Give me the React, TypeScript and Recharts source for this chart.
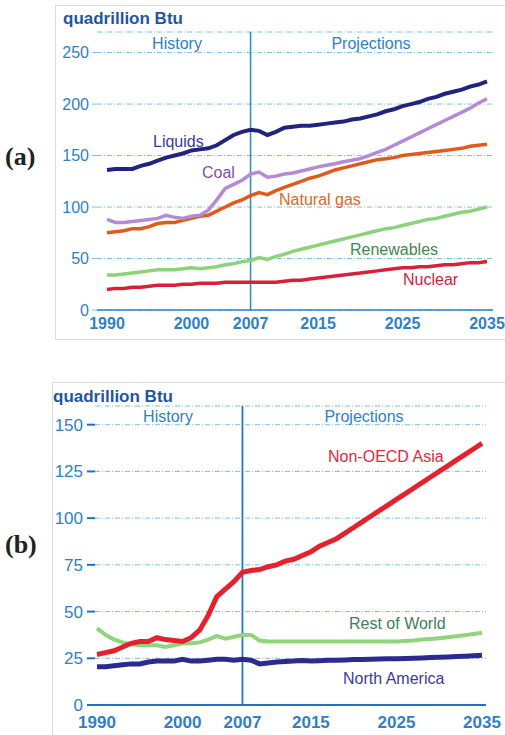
import { LineChart, Line, XAxis, YAxis, CartesianGrid, ReferenceLine } from "recharts";

const years = [
  1990, 1991, 1992, 1993, 1994, 1995, 1996, 1997, 1998, 1999, 2000, 2001, 2002, 2003, 2004, 2005,
  2006, 2007, 2008, 2009, 2010, 2011, 2012, 2013, 2014, 2015, 2016, 2017, 2018, 2019, 2020, 2021,
  2022, 2023, 2024, 2025, 2026, 2027, 2028, 2029, 2030, 2031, 2032, 2033, 2034, 2035,
];

// (a) world energy use by fuel
const liquids = [
  136, 137, 137, 137, 140, 142, 145, 148, 150, 152, 155, 156, 157, 160, 165, 170,
  173, 175, 174, 170, 173, 177, 178, 179, 179, 180, 181, 182, 183, 185, 186, 188,
  190, 193, 195, 198, 200, 202, 205, 207, 210, 212, 214, 217, 219, 222,
];
const coal = [
  88, 85, 85, 86, 87, 88, 89, 92, 90, 89, 91, 92, 97, 107, 118, 122,
  126, 132, 134, 129, 130, 132, 133, 135, 137, 139, 140.5, 142, 144, 145.5, 147, 150,
  153, 156, 160, 164, 168, 172, 176, 180, 184, 188, 192, 196, 201, 205,
];
const naturalGas = [
  75, 76, 77, 79, 79, 81, 84, 85, 85, 87, 89, 91, 92, 96, 100, 104,
  107, 111, 114, 112, 116, 119, 122, 125, 128, 130, 133, 136, 138, 140, 142, 144,
  146, 147, 148, 150, 151, 152, 153, 154, 155, 156, 157, 159, 160, 161,
];
const renewables = [
  34, 34, 35, 36, 37, 38, 39, 39, 39, 40, 41, 40, 41, 42, 44, 45,
  47, 48, 51, 49, 52, 54, 57, 59, 61, 63, 65, 67, 69, 71, 73, 75,
  77, 79, 80, 82, 84, 86, 88, 89, 91, 93, 95, 96, 98, 100,
];
const nuclear = [
  20, 21, 21, 22, 22, 23, 24, 24, 24, 25, 25, 26, 26, 26, 27, 27,
  27, 27, 27, 27, 27, 28, 29, 29, 30, 31, 32, 33, 34, 35, 36, 37,
  38, 39, 40, 41, 41, 42, 42, 43, 44, 44, 45, 46, 46, 47,
];

// (b) coal use by region
const nonOecdAsia = [
  27, 28, 29, 31, 33, 34, 34, 36, 35, 34.5, 34, 36, 40, 48, 58, 62,
  66, 71, 72, 72.5, 74, 75, 77, 78, 80, 82, 85, 87, 89, 92, 95, 98,
  101, 104, 107, 110, 113, 116, 119, 122, 125, 128, 131, 134, 137, 140,
];
const restOfWorld = [
  41, 37.5, 35, 33.5, 32.5, 32, 32, 32, 31, 32, 33, 33, 33.5, 35, 37, 35.5,
  36.5, 37.5, 37.5, 34.5, 34, 34, 34, 34, 34, 34, 34, 34, 34, 34, 34, 34,
  34, 34, 34, 34, 34.2, 34.5, 35, 35.3, 35.7, 36.2, 36.8, 37.4, 38, 38.7,
];
const northAmerica = [
  20.5, 20.5, 21, 21.5, 22, 22, 23, 23.5, 23.5, 23.5, 24.5, 23.5, 23.5, 24, 24.5, 24.5,
  24, 24.5, 24, 22, 22.5, 23, 23.3, 23.5, 23.8, 23.5, 23.7, 23.9, 24, 24.1, 24.3, 24.4,
  24.5, 24.6, 24.7, 24.8, 24.9, 25, 25.2, 25.4, 25.5, 25.7, 25.9, 26.1, 26.3, 26.6,
];

const xTicks = [1990, 2000, 2007, 2015, 2025, 2035];
const yTicksA = [0, 50, 100, 150, 200, 250];
const yTicksB = [0, 25, 50, 75, 100, 125, 150];

const dataA = years.map((year, i) => ({
  year,
  liquids: liquids[i],
  coal: coal[i],
  naturalGas: naturalGas[i],
  renewables: renewables[i],
  nuclear: nuclear[i],
}));
const dataB = years.map((year, i) => ({
  year,
  nonOecdAsia: nonOecdAsia[i],
  restOfWorld: restOfWorld[i],
  northAmerica: northAmerica[i],
}));

const FONT = "'Liberation Sans', Arial, sans-serif";
const AXIS_BLUE = "#2f80c6";
const GRID_BLUE = "#7cbfea";

const Txt = ({ x, y, color, size = 16, bold = false, center = false, font = FONT, children }: any) => (
  <div
    style={{
      position: "absolute",
      left: x,
      top: y,
      transform: center ? "translate(-50%, -50%)" : "translateY(-50%)",
      color,
      fontSize: size,
      fontWeight: bold ? 700 : 400,
      fontFamily: font,
      lineHeight: 1,
      whiteSpace: "nowrap",
    }}
  >
    {children}
  </div>
);

export default function App() {
  return (
    <div style={{ position: "absolute", left: 0, top: 0, width: 505, height: 735, overflow: "hidden", background: "#fff" }}>
      <div style={{ position: "absolute", left: 55, top: 5, width: 470, height: 333, border: "1px solid #dcdcdc" }} />
      <div style={{ position: "absolute", left: 52, top: 382, width: 470, height: 380, border: "1px solid #dcdcdc" }} />

      <div style={{ position: "absolute", left: 0, top: 0 }}>
        <LineChart width={505} height={345} data={dataA} margin={{ top: 32, right: 12, left: 57, bottom: 5 }}>
          <CartesianGrid vertical={false} stroke={GRID_BLUE} strokeDasharray="5 2 1 2" />
          <XAxis
            dataKey="year"
            type="number"
            domain={[1990, 2035]}
            ticks={xTicks}
            padding={{ left: 10, right: 6 }}
            axisLine={{ stroke: AXIS_BLUE, strokeWidth: 1.5 }}
            tickLine={false}
            tickSize={0}
            tickMargin={8}
            height={30}
            tick={{ fill: AXIS_BLUE, fontSize: 16, fontWeight: 700, fontFamily: FONT }}
          />
          <YAxis
            type="number"
            domain={[0, 270]}
            ticks={yTicksA}
            width={40}
            axisLine={false}
            tickLine={{ stroke: GRID_BLUE }}
            tickSize={5}
            tickMargin={3}
            tick={{ fill: AXIS_BLUE, fontSize: 16, fontFamily: FONT }}
          />
          <ReferenceLine x={2007} stroke="#3088c9" strokeWidth={1.5} />
          <Line dataKey="nuclear" stroke="#d8203a" strokeWidth={3.5} dot={false} isAnimationActive={false} />
          <Line dataKey="renewables" stroke="#8dd17a" strokeWidth={3.5} dot={false} isAnimationActive={false} />
          <Line dataKey="naturalGas" stroke="#e05a1c" strokeWidth={3.5} dot={false} isAnimationActive={false} />
          <Line dataKey="coal" stroke="#b48ad6" strokeWidth={3.5} dot={false} isAnimationActive={false} />
          <Line dataKey="liquids" stroke="#22227f" strokeWidth={4} dot={false} isAnimationActive={false} />
        </LineChart>
      </div>

      <div style={{ position: "absolute", left: 0, top: 370 }}>
        <LineChart width={505} height={365} data={dataB} margin={{ top: 36, right: 19, left: 55, bottom: 0 }}>
          <CartesianGrid vertical={false} stroke={GRID_BLUE} strokeDasharray="5 2 1 2" />
          <XAxis
            dataKey="year"
            type="number"
            domain={[1990, 2035]}
            ticks={xTicks}
            padding={{ left: 2, right: 4 }}
            axisLine={{ stroke: "#1f72c0", strokeWidth: 2 }}
            tickLine={false}
            tickSize={0}
            tickMargin={11}
            height={30}
            tick={{ fill: AXIS_BLUE, fontSize: 17, fontWeight: 700, fontFamily: FONT }}
          />
          <YAxis
            type="number"
            domain={[0, 160]}
            ticks={yTicksB}
            width={40}
            axisLine={false}
            tickLine={{ stroke: "#1f72c0", strokeWidth: 2 }}
            tickSize={8}
            tickMargin={4}
            tick={{ fill: AXIS_BLUE, fontSize: 17, fontFamily: FONT }}
          />
          <ReferenceLine x={2007} stroke="#1f78c4" strokeWidth={1.8} />
          <Line dataKey="northAmerica" stroke="#2b2b8f" strokeWidth={5} dot={false} isAnimationActive={false} />
          <Line dataKey="restOfWorld" stroke="#91d47b" strokeWidth={4} dot={false} isAnimationActive={false} />
          <Line dataKey="nonOecdAsia" stroke="#e3222d" strokeWidth={5} dot={false} isAnimationActive={false} />
        </LineChart>
      </div>

      {/* panel (a) labels */}
      <Txt x={5} y={157} color="#222" size={26} bold font="'Liberation Serif', 'Times New Roman', serif">(a)</Txt>
      <Txt x={63} y={18} color="#1f55a3" size={17} bold>quadrillion Btu</Txt>
      <Txt x={177} y={44} color={AXIS_BLUE} center>History</Txt>
      <Txt x={371} y={44} color={AXIS_BLUE} center>Projections</Txt>
      <Txt x={153} y={142} color="#3b3a9c">Liquids</Txt>
      <Txt x={202} y={173} color="#7f50a8">Coal</Txt>
      <Txt x={279} y={200} color="#e2652a">Natural gas</Txt>
      <Txt x={350} y={250} color="#3b8a4c">Renewables</Txt>
      <Txt x={403} y={280} color="#d3203f">Nuclear</Txt>

      {/* panel (b) labels */}
      <Txt x={5} y={545} color="#222" size={26} bold font="'Liberation Serif', 'Times New Roman', serif">(b)</Txt>
      <Txt x={53} y={396} color="#1f55a3" size={17} bold>quadrillion Btu</Txt>
      <Txt x={168} y={417} color={AXIS_BLUE} center>History</Txt>
      <Txt x={364} y={417} color={AXIS_BLUE} center>Projections</Txt>
      <Txt x={328} y={457} color="#e3283a">Non-OECD Asia</Txt>
      <Txt x={349} y={624} color="#3f7f5a">Rest of World</Txt>
      <Txt x={343} y={679} color="#3d3b9b">North America</Txt>
    </div>
  );
}
